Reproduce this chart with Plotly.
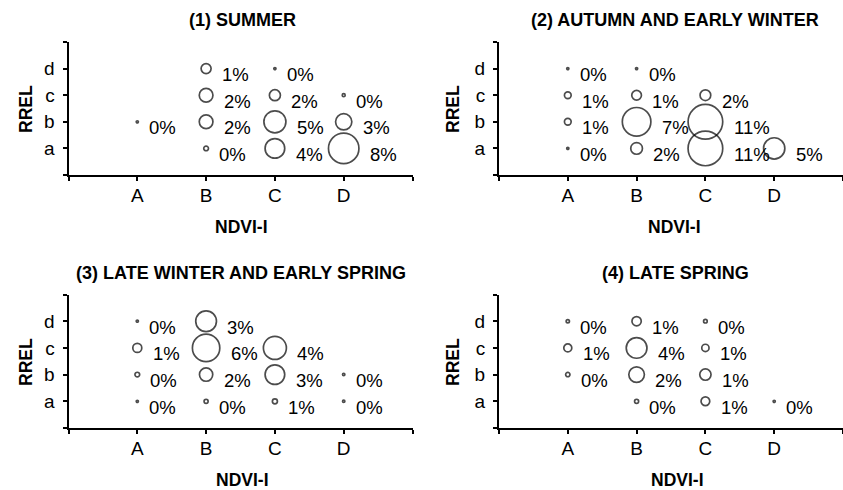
import math
import plotly.graph_objects as go

# ---------------- data ----------------
ndvi_labels = ["A", "B", "C", "D"]
rrel_labels = ["a", "b", "c", "d"]

panel_titles = [
    "(1) SUMMER",
    "(2) AUTUMN AND EARLY WINTER",
    "(3) LATE WINTER AND EARLY SPRING",
    "(4) LATE SPRING",
]

# (1) Summer
summer_ndvi = ["A", "B", "B", "B", "B", "C", "C", "C", "C", "D", "D", "D"]
summer_rrel = ["b", "d", "c", "b", "a", "d", "c", "b", "a", "c", "b", "a"]
summer_pct = [0, 1, 2, 2, 0, 0, 2, 5, 4, 0, 3, 8]
summer_share = [0.04, 0.91, 1.7, 1.7, 0.2, 0.04, 1.1, 4.4, 3.5, 0.08, 2.4, 8.4]

# (2) Autumn and early winter
autumn_ndvi = ["A", "A", "A", "A", "B", "B", "B", "B", "C", "C", "C", "D"]
autumn_rrel = ["d", "c", "b", "a", "d", "c", "b", "a", "c", "b", "a", "a"]
autumn_pct = [0, 1, 1, 0, 0, 1, 7, 2, 2, 11, 11, 5]
autumn_share = [0.04, 0.41, 0.41, 0.04, 0.04, 0.85, 7.4, 1.24, 1.04, 10.9, 10.9, 4.1]

# (3) Late winter and early spring
lwinter_ndvi = ["A", "A", "A", "A", "B", "B", "B", "B", "C", "C", "C", "D", "D"]
lwinter_rrel = ["d", "c", "b", "a", "d", "c", "b", "a", "c", "b", "a", "b", "a"]
lwinter_pct = [0, 1, 0, 0, 3, 6, 2, 0, 4, 3, 1, 0, 0]
lwinter_share = [0.04, 0.73, 0.2, 0.04, 3.9, 6.8, 1.6, 0.15, 4.8, 3.5, 0.23, 0.05, 0.05]

# (4) Late spring
lspring_ndvi = ["A", "A", "A", "B", "B", "B", "B", "C", "C", "C", "C", "D"]
lspring_rrel = ["d", "c", "b", "d", "c", "b", "a", "d", "c", "b", "a", "a"]
lspring_pct = [0, 1, 0, 1, 4, 2, 0, 0, 1, 1, 1, 0]
lspring_share = [0.1, 0.58, 0.17, 0.78, 3.9, 2.2, 0.15, 0.12, 0.48, 1.16, 0.69, 0.04]

panels = [
    (summer_ndvi, summer_rrel, summer_pct, summer_share),
    (autumn_ndvi, autumn_rrel, autumn_pct, autumn_share),
    (lwinter_ndvi, lwinter_rrel, lwinter_pct, lwinter_share),
    (lspring_ndvi, lspring_rrel, lspring_pct, lspring_share),
]

# ---------------- layout geometry ----------------
W, H = 843, 490
FONT = "Liberation Sans, Arial, sans-serif"
INK = "#000000"
K = 10.5          # bubble diameter scale (px per sqrt(%))
LW = 1.7          # bubble outline width

x_domains = [(68.5 / W, 412.5 / W), (499 / W, 1.0), (68.5 / W, 412.5 / W), (499 / W, 1.0)]
y_domains = [(1 - 175 / H, 1 - 42 / H), (1 - 175 / H, 1 - 42 / H),
             (1 - 428 / H, 1 - 294.5 / H), (1 - 428 / H, 1 - 294.5 / H)]
title_pos = [(242, 20), (675, 20), (241, 273), (675, 273)]
xtitle_pos = [(241, 227), (674, 227), (242, 480), (677, 480)]
ytitle_pos = [(26, 109), (453, 109), (26, 362), (453, 362)]

fig = go.Figure()
annotations = []
layout_axes = {}

for i, (ndvi, rrel, pct, share) in enumerate(panels):
    n = i + 1
    xa = "x" if n == 1 else f"x{n}"
    ya = "y" if n == 1 else f"y{n}"
    xs = [ndvi_labels.index(c) + 1 for c in ndvi]
    ys = [rrel_labels.index(c) + 1 for c in rrel]
    diam = [K * math.sqrt(v) for v in share]
    fig.add_trace(go.Scatter(
        x=xs, y=ys, mode="markers", xaxis=xa, yaxis=ya,
        marker=dict(symbol="circle-open", size=diam, sizemode="diameter",
                    color=INK, line=dict(color=INK, width=LW)),
        hoverinfo="skip", showlegend=False,
    ))
    for xv, yv, p, d in zip(xs, ys, pct, diam):
        annotations.append(dict(
            x=xv, y=yv, xref=xa, yref=ya, text=f"{p}%", showarrow=False,
            xanchor="left", yanchor="middle",
            xshift=(d + LW) / 2 + 8, yshift=-6,
            font=dict(family=FONT, size=18.5, color=INK),
        ))

    axis_common = dict(showline=True, linecolor=INK, linewidth=2,
                       showgrid=False, zeroline=False, ticks="outside",
                       ticklen=4, tickwidth=1.6, tickcolor=INK,
                       tickfont=dict(family=FONT, size=19, color=INK),
                       fixedrange=True)
    layout_axes[f"xaxis{'' if n == 1 else n}"] = dict(
        axis_common, domain=list(x_domains[i]), range=[0, 5],
        tickvals=[0, 1, 2, 3, 4, 5], ticktext=[""] + ndvi_labels + [""],
        anchor=ya, ticklabelstandoff=-2)
    layout_axes[f"yaxis{'' if n == 1 else n}"] = dict(
        axis_common, domain=list(y_domains[i]), range=[0, 5],
        tickvals=[0, 1, 2, 3, 4, 5], ticktext=[""] + rrel_labels + [""],
        anchor=xa, ticklabelstandoff=4)

    tx, ty = title_pos[i]
    annotations.append(dict(x=tx / W, y=1 - ty / H, xref="paper", yref="paper",
                            text=f"<b>{panel_titles[i]}</b>", showarrow=False,
                            xanchor="center", yanchor="middle",
                            font=dict(family=FONT, size=18, color=INK)))
    ax_, ay_ = xtitle_pos[i]
    annotations.append(dict(x=ax_ / W, y=1 - ay_ / H, xref="paper", yref="paper",
                            text="<b>NDVI-I</b>", showarrow=False,
                            xanchor="center", yanchor="middle",
                            font=dict(family=FONT, size=17.5, color=INK)))
    bx, by = ytitle_pos[i]
    annotations.append(dict(x=bx / W, y=1 - by / H, xref="paper", yref="paper",
                            text="<b>RREL</b>", showarrow=False, textangle=-90,
                            xanchor="center", yanchor="middle",
                            font=dict(family=FONT, size=17.5, color=INK)))

fig.update_layout(
    width=W, height=H,
    margin=dict(l=0, r=0, t=0, b=0),
    paper_bgcolor="white", plot_bgcolor="white",
    annotations=annotations,
    **layout_axes,
)

fig.write_html("out.html", config={"displayModeBar": False},
               post_script="document.body.style.margin='0';")
